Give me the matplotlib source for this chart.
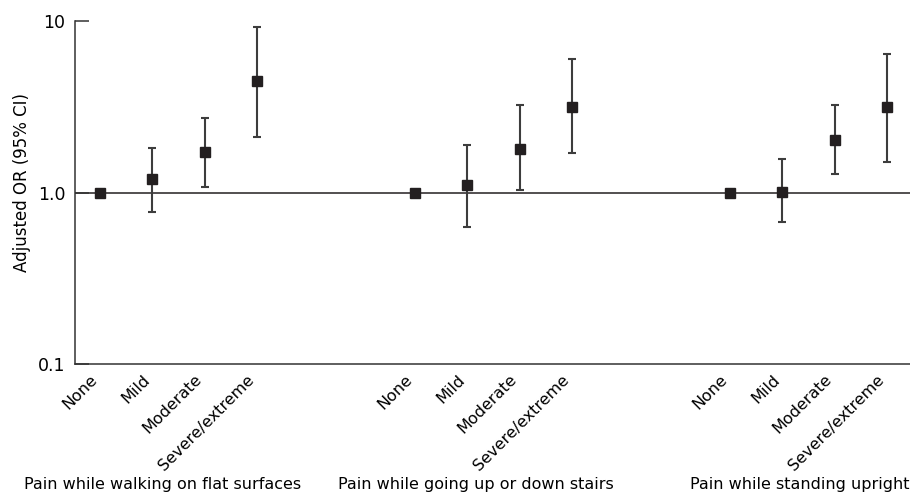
import numpy as np
import matplotlib.pyplot as plt

# categories and groups
levels = ['None', 'Mild', 'Moderate', 'Severe/extreme']
groups = ['Pain while walking on flat surfaces',
          'Pain while going up or down stairs',
          'Pain while standing upright']

# adjusted OR with 95% CI
or_walk = [1.0, 1.20, 1.71, 4.44]
lo_walk = [1.0, 0.77, 1.07, 2.10]
hi_walk = [1.0, 1.81, 2.70, 9.18]

or_stairs = [1.0, 1.10, 1.80, 3.16]
lo_stairs = [1.0, 0.63, 1.03, 1.69]
hi_stairs = [1.0, 1.88, 3.22, 5.96]

or_stand = [1.0, 1.01, 2.03, 3.16]
lo_stand = [1.0, 0.675, 1.29, 1.51]
hi_stand = [1.0, 1.56, 3.21, 6.40]

plt.rcParams['font.family'] = ['DejaVu Sans']
fs = 11.5

fig = plt.figure(figsize=(9.1, 4.99), dpi=100)
ax = fig.add_axes([75/910, 1 - 364.3/499, 835/910, (364.3 - 20.7)/499])

ors = [or_walk, or_stairs, or_stand]
los = [lo_walk, lo_stairs, lo_stand]
his = [hi_walk, hi_stairs, hi_stand]

xticks = []
for g in range(3):
    x = np.arange(4) + 6 * g
    xticks.extend(x)
    y = np.array(ors[g])
    err = np.array([y - np.array(los[g]), np.array(his[g]) - y])
    # skip the reference level (no CI)
    ax.errorbar(x[1:], y[1:], yerr=err[:, 1:], fmt='none', ecolor='#3d3d3d',
                elinewidth=1.5, capsize=3, capthick=1.5, zorder=2)
    ax.plot(x, y, 's', color='#231f20', ms=7, zorder=3)

ax.axhline(1.0, color='#231f20', lw=1.1, zorder=1)

ax.set_yscale('log')
ax.set_ylim(0.1, 10)
ax.set_xlim(-0.476, 15.43)
ax.set_yticks([0.1, 1.0, 10])
ax.set_yticklabels(['0.1', '1.0', '10'])
ax.minorticks_off()
ax.tick_params(axis='y', direction='in', length=10, width=1.1, color='#333333',
               labelsize=12.5, pad=7)
ax.tick_params(axis='x', length=0, pad=13)
ax.set_xticks(xticks)
ax.set_xticklabels(levels * 3, rotation=45, ha='right', va='bottom',
                   rotation_mode='anchor', fontsize=fs)

for side in ['top', 'right']:
    ax.spines[side].set_visible(False)
for side in ['left', 'bottom']:
    ax.spines[side].set_color('#333333')
    ax.spines[side].set_linewidth(1.1)

ax.set_ylabel('Adjusted OR (95% CI)', fontsize=12, va='center')
ax.yaxis.set_label_coords(-0.0635, 0.53)

# group captions under each set of levels
label_x = [1.2, 7.16, 13.33]
for gx, name in zip(label_x, groups):
    ax.text(gx, -0.351, name, transform=ax.get_xaxis_transform(),
            ha='center', va='center', fontsize=fs)

fig.savefig('out.png', dpi=100)
